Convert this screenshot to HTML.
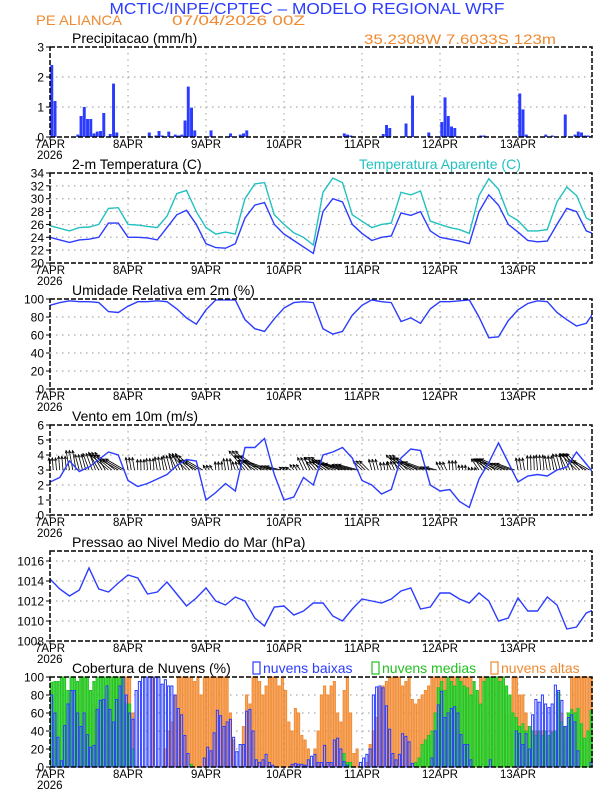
<!DOCTYPE html>
<html><head><meta charset="utf-8">
<style>
body{margin:0;background:#fff;}
svg{display:block;font-family:"Liberation Sans",sans-serif;}
</style></head>
<body>
<svg id="c" width="612" height="792" viewBox="0 0 612 792" xmlns="http://www.w3.org/2000/svg">
<text x="307" y="14" text-anchor="middle" font-size="16" fill="#2a3cff" textLength="395" lengthAdjust="spacingAndGlyphs">MCTIC/INPE/CPTEC – MODELO REGIONAL WRF</text>
<text x="36" y="25" font-size="14" fill="#f08a30" textLength="86" lengthAdjust="spacingAndGlyphs">PE ALIANCA</text>
<text x="172" y="25" font-size="14" fill="#f08a30" textLength="133" lengthAdjust="spacingAndGlyphs">07/04/2026 00Z</text>
<text x="364" y="44" font-size="14" fill="#f08a30" textLength="192" lengthAdjust="spacingAndGlyphs">35.2308W 7.6033S 123m</text>
<g id="g"></g>
</svg>
<script>
// ---------- data ----------
const days = ["7APR","8APR","9APR","10APR","11APR","12APR","13APR"];
const precipHours = [0,1,8,9,10,11,12,13,14,15,16,18,19,20,30,32,33,34,36,38,39,40,41,42,43,44,49,55,58,59,60,84,90,91,92,102,103,104,109,111,116,120,121,122,123,124,132,133,144,145,146,152,154,158,161,162,163,164,165];
const precipVals = [2.4,1.2,0.08,0.7,1.0,0.6,0.6,0.12,0.18,0.2,0.8,0.1,1.78,0.15,0.15,0.05,0.2,0.05,0.18,0.08,0.05,0.08,0.55,1.68,0.98,0.22,0.22,0.12,0.08,0.12,0.22,0.02,0.12,0.08,0.05,0.1,0.4,0.3,0.45,1.38,0.15,0.5,1.32,0.7,0.35,0.3,0.05,0.05,1.45,0.92,0.08,0.08,0.05,0.75,0.08,0.18,0.15,0.05,0.05];
// 3-hourly series (hours 0,3,...,168)
const temp = [24.0,23.6,23.2,23.6,23.7,24.0,26.2,26.2,24.0,24.0,23.9,23.6,25.5,27.5,28.2,26.0,23.0,22.4,22.3,23.0,27.0,29.0,29.4,26.0,24.5,23.5,22.5,21.5,28.0,30.0,29.5,26.0,24.6,23.5,24.0,24.2,27.8,27.4,28.0,25.0,24.0,23.7,23.4,23.0,28.0,30.6,29.0,26.0,24.8,23.5,23.3,23.4,26.0,28.5,28.0,25.0,24.4];
const tempApp = [25.8,25.4,25.0,25.5,25.6,26.0,28.5,28.6,26.0,25.9,25.7,25.5,27.3,30.8,31.3,28.0,25.5,24.5,24.8,24.5,30.0,32.3,32.5,27.5,26.0,24.7,24.0,22.8,31.0,33.2,32.5,27.5,26.5,25.5,26.0,26.2,31.0,30.6,31.2,26.5,26.0,25.5,25.2,24.6,30.5,33.1,31.5,27.5,26.6,25.0,25.0,25.2,29.5,31.8,30.5,27.0,26.2];
const rh = [93,96,98,97,97,96,86,85,92,97,97,98,97,89,79,72,88,99,99,99,77,67,64,78,90,96,97,96,67,61,64,82,93,99,97,96,75,79,73,89,97,97,98,99,80,57,58,76,88,95,98,97,85,77,70,73,89];
const windSpd = [2.2,2.5,3.6,2.9,3.2,3.7,4.2,4.0,2.3,1.9,2.1,2.4,2.7,3.3,3.7,3.6,1.0,1.5,2.1,1.6,4.5,4.5,5.1,2.7,1.0,1.2,2.5,2.0,4.0,4.2,4.5,3.8,2.3,2.0,1.4,1.7,3.8,4.4,4.3,2.0,1.6,1.7,0.9,0.5,2.4,3.5,4.8,3.5,2.2,2.6,2.7,2.6,3.0,3.2,4.2,3.4,2.6];
const arrowDir = [95,95,100,105,110,120,140,150,100,92,95,100,105,115,135,150,120,95,100,110,130,145,160,165,150,125,115,130,145,155,165,165,135,105,100,115,135,150,160,165,115,95,100,110,125,145,155,160,100,92,95,100,105,115,135,150,160];
const press = [1014.2,1013.2,1012.5,1013.1,1015.3,1013.2,1012.9,1013.8,1014.6,1014.3,1012.7,1012.9,1013.9,1012.7,1011.5,1012.3,1013.3,1012.0,1011.6,1012.4,1012.0,1010.3,1009.5,1011.4,1011.5,1010.6,1011.0,1011.8,1011.8,1010.5,1010.0,1011.2,1012.2,1012.0,1011.8,1012.2,1013.0,1013.3,1011.2,1011.4,1012.8,1012.8,1012.2,1011.8,1012.8,1012.0,1010.0,1010.3,1012.3,1011.0,1011.0,1012.4,1011.6,1009.2,1009.4,1010.8,1011.2];
// hourly cloud cover (hours 0..166)
const cloudLow = [80,60,33,7,46,70,85,85,60,45, 60,36,22,24,64,74,75,90,64,50, 75,90,100,80,60,53,85,95,100,100, 100,100,100,100,92,97,90,90,80,65, 58,35,15,0,0,0,0,10,22,18, 38,63,57,45,50,53,33,17,25,25, 62,64,40,8,5,8,14,5,2,0, 0,0,0,0,3,4,3,3,2,8, 12,14,5,5,24,5,5,30,32,20, 6,2,0,0,0,5,10,14,20,80, 89,90,88,68,42,15,8,14,37,34, 28,4,0,0,0,0,0,10,40,69, 84,55,60,65,67,60,36,25,25,8, 0,0,0,0,0,8,0,0,0,0, 0,0,0,40,37,25,37,20,58,75, 72,80,70,66,70,91,85,74,45,55, 58,50,18,0,0,0,5];
const cloudMid = [94,95,95,100,100,85,100,100,95,100, 100,100,85,95,100,100,100,100,100,100, 100,100,100,70,70,20,0,0,0,0, 0,0,0,0,0,0,0,0,0,0, 0,0,0,3,0,0,0,0,0,0, 0,0,0,0,0,0,0,0,0,0, 0,0,0,0,0,0,0,0,0,0, 0,0,0,0,0,0,0,0,0,0, 0,0,0,0,0,0,0,0,0,0, 15,5,5,0,0,0,0,0,0,0, 0,0,0,0,0,0,0,0,0,0, 0,0,5,10,25,30,35,40,60,88, 95,85,100,95,90,100,95,90,88,80, 95,85,70,95,100,100,100,100,95,100, 90,80,60,55,45,48,40,45,40,35, 40,35,40,35,38,40,83,50,45,60, 64,60,65,48,32,40,63];
const cloudHigh = [0,0,0,0,0,20,30,65,80,100, 100,60,85,70,50,55,40,80,85,100, 100,100,100,100,100,60,0,0,0,0, 0,100,0,0,0,20,40,50,80,100, 100,100,100,100,95,100,80,100,100,100, 100,100,100,100,100,60,30,0,0,45, 80,70,100,100,95,80,90,100,100,100, 90,100,85,50,40,65,60,35,30,20, 0,20,40,80,90,80,90,95,60,50, 85,100,60,15,20,0,0,5,25,40, 55,88,90,95,100,100,100,100,90,95, 100,75,70,75,80,85,90,100,100,100, 100,100,100,100,100,100,100,100,100,100, 80,75,100,100,100,100,100,100,100,100, 60,40,100,100,80,80,60,45,40,40, 40,40,40,30,40,40,65,60,30,45, 100,100,100,100,100,100,100];

// ---------- helpers ----------
const NS="http://www.w3.org/2000/svg";
const G=document.getElementById('g');
const X0=50, PXH=3.25, XR=592;
function xh(h){return X0+h*PXH;}
function mk(tag,attrs,parent){const e=document.createElementNS(NS,tag);for(const k in attrs)e.setAttribute(k,attrs[k]);(parent||G).appendChild(e);return e;}
function txt(s,x,y,attrs){const t=mk('text',Object.assign({x:x,y:y},attrs||{}));t.textContent=s;return t;}

function panel(name,top,ymin,ymax,ticks,tickLabels,title){
  const bot=top+90;
  const ys=v=>bot-(v-ymin)/(ymax-ymin)*90;
  const grp=mk('g',{});
  
  
  for(let d=1;d<days.length;d++){
    const l=mk('line',{x1:xh(d*24),x2:xh(d*24),y1:top,y2:bot,stroke:'#aaa','stroke-width':1.2,'stroke-dasharray':'1.5,4.5'},grp);
    
    
  }
  ticks.forEach((v,i)=>{
    const y=ys(v);
    if(v>ymin && v<ymax){
      const l=mk('line',{x1:X0,x2:XR,y1:y,y2:y,stroke:'#aaa','stroke-width':1.2,'stroke-dasharray':'1.5,4.5'},grp);
      
      
    }
    mk('line',{x1:X0-4,x2:X0,y1:y,y2:y,stroke:'#000','stroke-width':1},grp);
    const t=txt(tickLabels[i],X0-6,y+4.5,{'text-anchor':'end','font-size':12,fill:'#000'});
    
    
  });
  days.forEach((d,i)=>{
    const x=xh(i*24);
    mk('line',{x1:x,x2:x,y1:bot,y2:bot+3,stroke:'#000'},grp);
    const t=txt(d,x,bot+11,{'text-anchor':'middle','font-size':11.5,fill:'#000',textLength:d.length>4?36:30,lengthAdjust:'spacingAndGlyphs'});
    
    
  });
  const yr=txt('2026',37,bot+22,{'font-size':11.5,fill:'#000'});
  
  
  const tt=txt(title,72,top-4,{'font-size':14,fill:'#000'});
  
  
  return {top,bot,ys,grp};
}
function frame(p){
  const r=mk('rect',{x:X0,y:p.top,width:XR-X0,height:90,fill:'none',stroke:'#000','stroke-width':1.5,'stroke-dasharray':'5,2'});
  
  
}
function line(p,vals,color,name){
  const pts=vals.map((v,i)=>xh(i*3).toFixed(1)+','+p.ys(v).toFixed(1)).join(' ');
  const cp=mk('clipPath',{id:'cp'+name});
  mk('rect',{x:X0,y:p.top,width:XR-X0,height:90},cp);
  const l=mk('polyline',{points:pts,fill:'none',stroke:color,'stroke-width':1.4,'clip-path':'url(#cp'+name+')'});
  
  
}

// ---------- panel 1: precipitation ----------
const p1=panel('precipitation',47,0,3,[0,1,2,3],['0','1','2','3'],'Precipitacao (mm/h)');
precipHours.forEach((h,i)=>{
  const y=p1.ys(precipVals[i]);
  const b=mk('rect',{x:xh(h)+0.3,y:y,width:PXH-0.3,height:p1.bot-y,fill:'#2b3cff'});
  
  
});
frame(p1);

// ---------- panel 2: temperature ----------
const p2=panel('temperature',173,20,34,[20,22,24,26,28,30,32,34],['20','22','24','26','28','30','32','34'],'2-m Temperatura (C)');
line(p2,tempApp,'#22c0c0','apparent-temp-line');
line(p2,temp,'#2b3cff','temp-line');
frame(p2);
const lt=txt('Temperatura Aparente (C)',359,169,{'font-size':14,fill:'#22c0c0'});



// ---------- panel 3: relative humidity ----------
const p3=panel('humidity',299,0,100,[0,20,40,60,80,100],['0','20','40','60','80','100'],'Umidade Relativa em 2m (%)');
line(p3,rh,'#2b3cff','rh-line');
frame(p3);

// ---------- panel 4: wind ----------
const p4=panel('wind',425,0,6,[0,1,2,3,4,5,6],['0','1','2','3','4','5','6'],'Vento em 10m (m/s)');
for(let h=0;h<=166;h++){
  const i=Math.floor(h/3);
  const s=windSpd[i], a=arrowDir[i]*Math.PI/180;
  const len=s*5.5;
  const x1=xh(h), y1=p4.ys(3);
  const x2=x1+len*Math.cos(a), y2=y1-len*Math.sin(a);
  const ar=mk('g',{});
  
  
  mk('line',{x1:x1,y1:y1,x2:x2,y2:y2,stroke:'#000','stroke-width':0.8},ar);
  const hl=3, ha=0.45;
  mk('polyline',{points:`${x2-hl*Math.cos(a-ha)},${y2+hl*Math.sin(a-ha)} ${x2},${y2} ${x2-hl*Math.cos(a+ha)},${y2+hl*Math.sin(a+ha)}`,fill:'none',stroke:'#000','stroke-width':0.8},ar);
}
line(p4,windSpd,'#2b3cff','wind-speed-line');
frame(p4);

// ---------- panel 5: pressure ----------
const p5=panel('pressure',551,1008,1017,[1008,1010,1012,1014,1016],['1008','1010','1012','1014','1016'],'Pressao ao Nivel Medio do Mar (hPa)');
line(p5,press,'#2b3cff','pressure-line');
frame(p5);

// ---------- panel 6: clouds ----------
const p6=panel('clouds',677,0,100,[0,20,40,60,80,100],['0','20','40','60','80','100'],'Cobertura de Nuvens (%)');
function cloudBars(vals,fill,stroke,name){
  vals.forEach((v,h)=>{
    if(v<=0)return;
    const y=p6.ys(v);
    const b=mk('rect',{x:xh(h)+0.6,y:y,width:PXH-1.2,height:p6.bot-y,fill:fill,stroke:stroke,'stroke-width':1});
    
    
  });
}
cloudBars(cloudHigh,'#f7a868','#f08a30','high-cloud-bar');
cloudBars(cloudMid,'#44e044','#22c022','mid-cloud-bar');
cloudBars(cloudLow,'none','#2b3cff','low-cloud-bar');
frame(p6);
[['nuvens baixas','#2b3cff',253,'legend-low'],['nuvens medias','#22c022',372,'legend-mid'],['nuvens altas','#f08a30',491,'legend-high']].forEach(l=>{
  const r=mk('rect',{x:l[2],y:662,width:7,height:12,fill:'none',stroke:l[1],'stroke-width':1.2});
  
  
  const t=txt(l[0],l[2]+10,673,{'font-size':14,fill:l[1]});
  
  
});
</script>
</body></html>
